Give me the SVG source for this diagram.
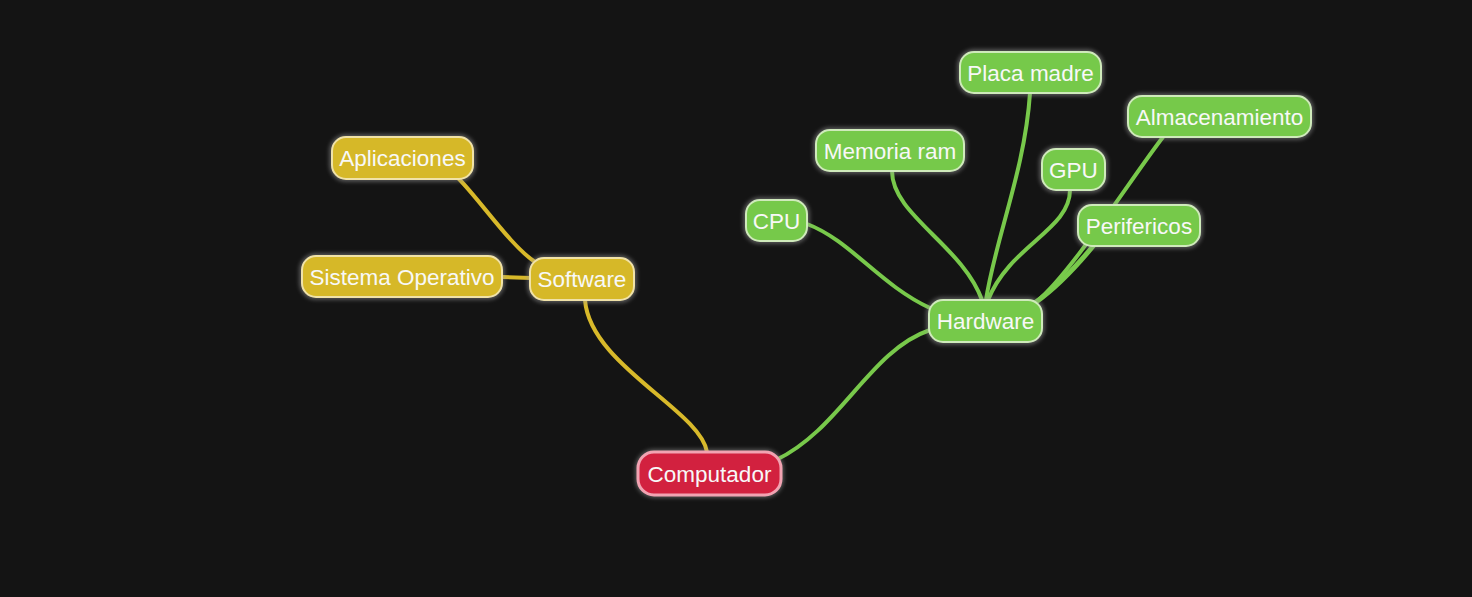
<svg xmlns="http://www.w3.org/2000/svg" width="1472" height="597" viewBox="0 0 1472 597">
<defs>
<filter id="blur" x="-20%" y="-50%" width="140%" height="200%"><feGaussianBlur stdDeviation="2"/></filter>
<style>
.halo{fill:none;stroke:#a0a0a0;stroke-width:5;opacity:0.55;filter:url(#blur)}
.g rect.b{fill:#76c94a;stroke:#cfeabb;stroke-width:2}
.y rect.b{fill:#d6b828;stroke:#f0e2a8;stroke-width:2}
.r rect.b{fill:#d2213f;stroke:#f2a3b2;stroke-width:3}
text{font-family:"Liberation Sans",Arial,sans-serif;font-size:22.5px;fill:#f8f8f8;text-anchor:middle}
.cg{fill:none;stroke:#78c94b;stroke-width:4;stroke-linecap:round}
.cy{fill:none;stroke:#d8b92a;stroke-width:4;stroke-linecap:round}
</style>
</defs>
<rect width="1472" height="597" fill="#141414"/>
<g id="connectors">
<path class="cy" d="M707,452 C700,410 590,365 585,300"/>
<path class="cy" d="M535,262 C510,245 480,200 458,178"/>
<path class="cy" d="M502,277 L531,278"/>
<path class="cg" d="M776,460 C840,430 870,350 930,330"/>
<path class="cg" d="M930,308 C880,285 850,240 807,224"/>
<path class="cg" d="M982,300 C962,245 892,215 892,171"/>
<path class="cg" d="M986,300 C995,240 1025,170 1030,93"/>
<path class="cg" d="M988,300 C1010,245 1070,230 1070,190"/>
<path class="cg" d="M1036,302 C1070,275 1130,180 1163,137"/>
<path class="cg" d="M1036,302 C1060,285 1080,262 1094,245" style="stroke-width:5"/>
</g>
<g id="computador" class="r"><rect class="halo" x="638" y="452" width="143" height="43" rx="16"/><rect class="b" x="638" y="452" width="143" height="43" rx="16"/><text x="709.5" y="482">Computador</text></g>
<g id="software" class="y"><rect class="halo" x="530" y="258" width="104" height="42" rx="14"/><rect class="b" x="530" y="258" width="104" height="42" rx="14"/><text x="582" y="287">Software</text></g>
<g id="sistema" class="y"><rect class="halo" x="302" y="256" width="200" height="41" rx="14"/><rect class="b" x="302" y="256" width="200" height="41" rx="14"/><text x="402" y="285">Sistema Operativo</text></g>
<g id="aplicaciones" class="y"><rect class="halo" x="332" y="137" width="141" height="42" rx="14"/><rect class="b" x="332" y="137" width="141" height="42" rx="14"/><text x="402.5" y="166">Aplicaciones</text></g>
<g id="hardware" class="g"><rect class="halo" x="929" y="300" width="113" height="42" rx="14"/><rect class="b" x="929" y="300" width="113" height="42" rx="14"/><text x="985.5" y="329">Hardware</text></g>
<g id="cpu" class="g"><rect class="halo" x="746" y="200" width="61" height="41" rx="14"/><rect class="b" x="746" y="200" width="61" height="41" rx="14"/><text x="776.5" y="229">CPU</text></g>
<g id="memoria" class="g"><rect class="halo" x="816" y="130" width="148" height="41" rx="14"/><rect class="b" x="816" y="130" width="148" height="41" rx="14"/><text x="890" y="159">Memoria ram</text></g>
<g id="placa" class="g"><rect class="halo" x="960" y="52" width="141" height="41" rx="14"/><rect class="b" x="960" y="52" width="141" height="41" rx="14"/><text x="1030.5" y="81">Placa madre</text></g>
<g id="gpu" class="g"><rect class="halo" x="1042" y="149" width="63" height="41" rx="14"/><rect class="b" x="1042" y="149" width="63" height="41" rx="14"/><text x="1073.5" y="178">GPU</text></g>
<g id="almacenamiento" class="g"><rect class="halo" x="1128" y="96" width="183" height="41" rx="14"/><rect class="b" x="1128" y="96" width="183" height="41" rx="14"/><text x="1219.5" y="125">Almacenamiento</text></g>
<g id="perifericos" class="g"><rect class="halo" x="1078" y="205" width="122" height="41" rx="14"/><rect class="b" x="1078" y="205" width="122" height="41" rx="14"/><text x="1139" y="234">Perifericos</text></g>
</svg>
